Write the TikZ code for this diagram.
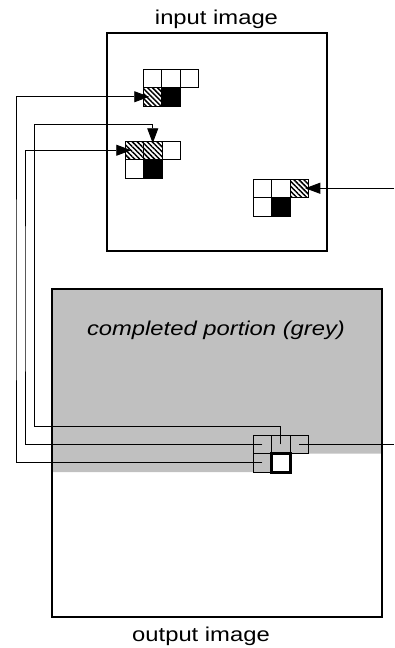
\documentclass[tikz,border=0pt]{standalone}
\usepackage{fontspec}
\setmainfont{Liberation Sans}
\usetikzlibrary{arrows.meta,patterns.meta}
\definecolor{cgrey}{RGB}{192,192,192}
\begin{document}
\begin{tikzpicture}[x=1pt,y=-1pt,
  cell/.style={draw, line width=0.8pt, minimum size=18.5pt, inner sep=0pt, outer sep=0pt},
  hatch/.style={cell, preaction={fill=white}, pattern={Lines[angle=-45,distance=3.5pt,line width=1.5pt]}},
  dark/.style={cell, fill=black},
  cur/.style={cell, line width=3pt, fill=white},
  conn/.style={line width=0.9pt},
  arr/.style={conn, -{Triangle[length=15pt,width=11pt]}},
  frame/.style={draw, line width=1.6pt, inner sep=0pt, outer sep=0pt, anchor=north west},
  lbl/.style={font=\fontsize{20}{22}\selectfont, inner sep=0pt}
]
\useasboundingbox (0,0) rectangle (394,648);

% completed (grey) portion of output
\fill[cgrey] (52,289) -| (382,453.5) -| (271.5,472) -| cycle;

% frames
\node[frame, minimum width=220pt, minimum height=218pt] (inbox) at (107,33) {};
\node[frame, minimum width=330pt, minimum height=328pt] (outbox) at (52,289) {};

% labels
\node[lbl, anchor=base] (tin) at (216.5,24.5) {\scalebox{1.19}[1]{input image}};
\node[lbl, anchor=base] (tout) at (201,641.5) {\scalebox{1.19}[1]{output image}};
\node[lbl, anchor=base] (tgrey) at (216,335.5) {\scalebox{1.19}[1]{\itshape completed portion (grey)}};

% input kernel 1
\node[cell]  (a11) at (152.25,78.25) {};
\node[cell]  (a12) at (170.75,78.25) {};
\node[cell]  (a13) at (189.25,78.25) {};
\node[hatch] (a21) at (152.25,96.75) {};
\node[dark]  (a22) at (170.75,96.75) {};

% input kernel 2
\node[hatch] (b11) at (134.25,150.25) {};
\node[hatch] (b12) at (152.75,150.25) {};
\node[cell]  (b13) at (171.25,150.25) {};
\node[cell]  (b21) at (134.25,168.75) {};
\node[dark]  (b22) at (152.75,168.75) {};

% input kernel 3
\node[cell]  (c11) at (262.25,188.25) {};
\node[cell]  (c12) at (280.75,188.25) {};
\node[hatch] (c13) at (299.25,188.25) {};
\node[cell]  (c21) at (262.25,206.75) {};
\node[dark]  (c22) at (280.75,206.75) {};

% output kernel
\node[cell] (o11) at (262.25,444.25) {};
\node[cell] (o12) at (280.75,444.25) {};
\node[cell] (o13) at (299.25,444.25) {};
\node[cell] (o21) at (262.25,462.75) {};
\node[cur]  (o22) at (280.75,462.75) {};

% routing coordinates
\coordinate (ra) at (16,300);
\coordinate (rb) at (25,300);
\coordinate (rc1) at (34,426);
\coordinate (rc2) at (34,124);
\coordinate (rd) at (394,0);

% connectors
\draw[arr] (o21.center) -| (ra) |- ([xshift=-3pt]a21.center);
\draw[arr] (o11.center) -| (rb) |- ([xshift=-3pt]b11.center);
\draw[arr] (o12.center) |- (rc1) -- (rc2) -| ([yshift=7pt]b12.center);
\draw[conn] (o13.center) -- (o13.center -| rd);
\draw[arr] (c13.center -| rd) -- ([xshift=6pt]c13.center);
\end{tikzpicture}
\end{document}
